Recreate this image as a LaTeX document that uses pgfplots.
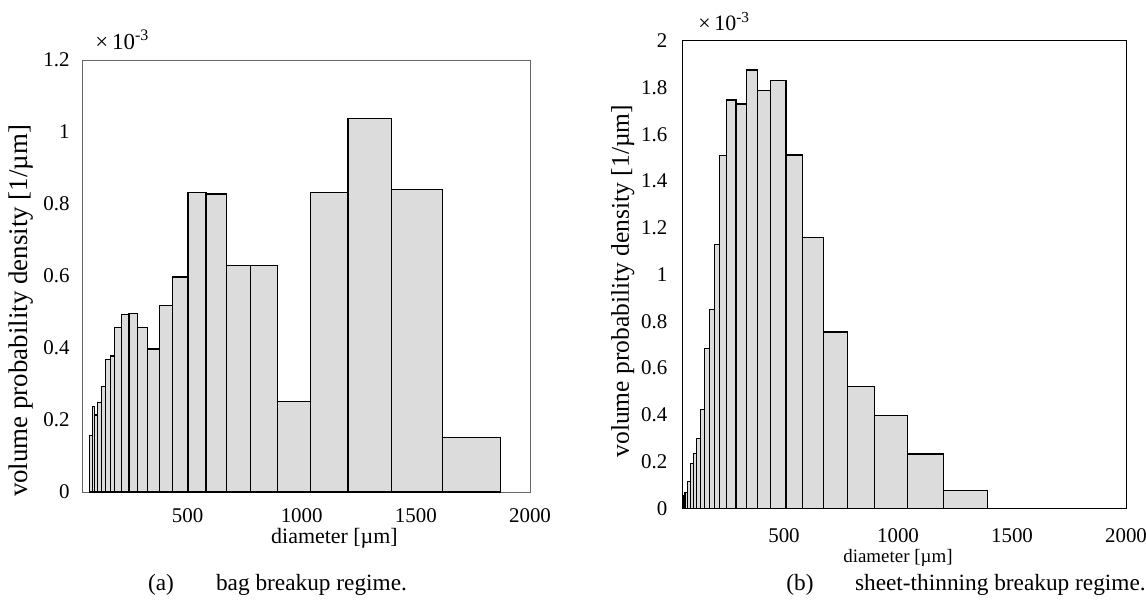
\documentclass[border=0pt]{standalone}
\usepackage{pgfplots}
\pgfplotsset{compat=1.18}
\usepackage{fontspec}
\setmainfont{Liberation Serif}
\definecolor{barfill}{HTML}{DCDCDC}
\begin{document}
\begin{tikzpicture}[x=1bp,y=1bp]
\useasboundingbox (0,0) rectangle (573,305.5);
\pgfplotsset{
  common/.style={
    scale only axis,
    anchor=south west,
    ymin=0,
    xmax=2000,
    xtick={500,1000,1500,2000},
    major tick length=0pt,
    scaled ticks=false,
    /pgf/number format/assume math mode=true,
    /pgf/number format/1000 sep={},
    tick label style={font=\fontsize{10.5}{12}\selectfont, text=black},
    clip=false,
  }
}
\begin{axis}[common,
  at={(41.25bp,59.5bp)},
  width=223.75bp, height=216bp,
  xmin=40, ymax=1.2,
  ytick={0,0.2,0.4,0.6,0.8,1,1.2},
  axis line style={draw=black!60},
  xticklabel style={yshift=-5bp},
  yticklabel style={xshift=-3bp},
  xlabel={diameter [µm]},
  xlabel style={font=\fontsize{11}{13}\selectfont, at={(axis description cs:0.563,-0.106)}, anchor=center},
  ylabel={volume probability density [1/µm]},
  ylabel style={font=\fontsize{13.5}{15}\selectfont, at={(axis description cs:-0.137,0.419)}, anchor=center},
]
\addplot[ybar interval, fill=barfill, draw=black, line width=0.6bp] coordinates {
(69,0.157) (83,0.237) (94,0.214) (105,0.249) (124,0.293) (142,0.367) (161,0.378)
(180,0.456) (212,0.493) (244,0.496) (282,0.458) (324,0.397) (377,0.519) (434,0.597)
(502,0.833) (581,0.828) (669,0.629) (777,0.629) (894,0.251) (1040,0.831) (1203,1.038)
(1395,0.841) (1618,0.152) (1870,0)
};
\node[anchor=south west, inner sep=0pt, font=\fontsize{11.5}{13}\selectfont] at ([xshift=6.25bp,yshift=5bp]rel axis cs:0,1) {×\,10\textsuperscript{-3}};
\end{axis}
\begin{axis}[common,
  at={(341.15bp,51.35bp)},
  width=221.85bp, height=233.8bp,
  xmin=54, ymax=2,
  ytick={0,0.2,0.4,0.6,0.8,1,1.2,1.4,1.6,1.8,2},
  axis line style={draw=black},
  xticklabel style={yshift=-6.5bp},
  yticklabel style={xshift=-4bp},
  xlabel={diameter [µm]},
  xlabel style={font=\fontsize{9.5}{11}\selectfont, at={(axis description cs:0.486,-0.106)}, anchor=center},
  ylabel={volume probability density [1/µm]},
  ylabel style={font=\fontsize{12.8}{14}\selectfont, at={(axis description cs:-0.134,0.486)}, anchor=center},
]
\addplot[ybar interval, fill=barfill, draw=black, line width=0.6bp] coordinates {
(58,0.056) (66,0.068) (76,0.114) (89,0.19) (102,0.235) (117,0.299) (133,0.423)
(150,0.684) (172,0.85) (194,1.13) (216,1.51) (249,1.746) (289,1.729) (335,1.875)
(385,1.786) (442,1.831) (509,1.511) (580,1.157) (674,0.754) (778,0.522) (896,0.396)
(1041,0.232) (1200,0.077) (1392,0)
};
\node[anchor=south west, inner sep=0pt, font=\fontsize{11}{13}\selectfont] at ([xshift=7.8bp,yshift=5bp]rel axis cs:0,1) {×\,10\textsuperscript{-3}};
\end{axis}
\node[anchor=base, font=\fontsize{11.7}{14}\selectfont] at (80.5,10.5) {(a)};
\node[anchor=base west, font=\fontsize{11.7}{14}\selectfont] at (104.5,10.5) {bag breakup regime.};
\node[anchor=base, font=\fontsize{11.7}{14}\selectfont] at (400,10.5) {(b)};
\node[anchor=base west, font=\fontsize{11.7}{14}\selectfont] at (424,10.5) {sheet-thinning breakup regime.};
\end{tikzpicture}
\end{document}
